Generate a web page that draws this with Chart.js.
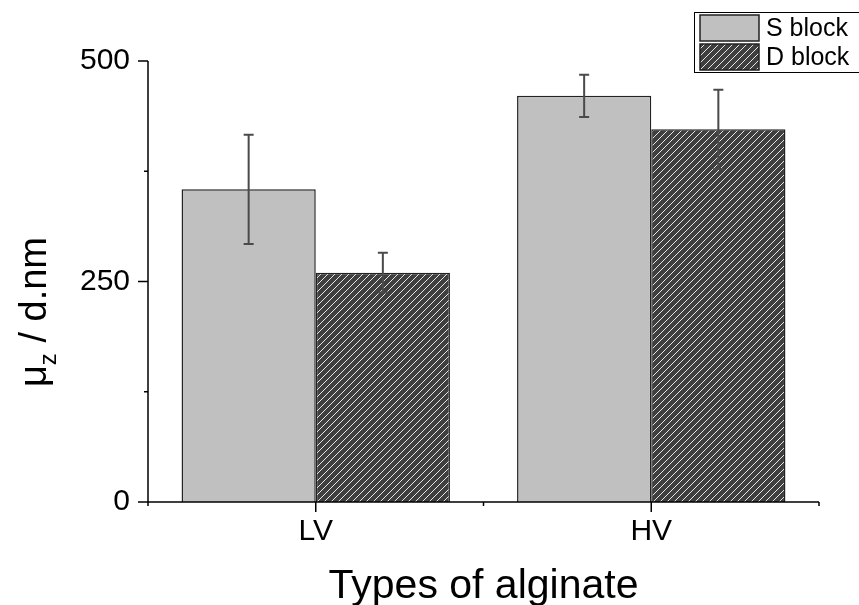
<!DOCTYPE html>
<html>
<head>
<meta charset="utf-8">
<script src="https://cdn.jsdelivr.net/npm/chart.js@4.4.1/dist/chart.umd.min.js"></script>
<style>
	html, body { margin: 0; padding: 0; background: #fff; }
	#wrap { width: 859px; height: 605px; position: relative; }
</style>
</head>
<body>
<div id="wrap"><canvas id="chart" width="859" height="605"></canvas></div>
<script>
var categories = ['LV', 'HV'];
var seriesNames = ['S block', 'D block'];
var sBlock = [354.5, 460.5];
var dBlock = [260, 422.5];
var sBlockErr = [62, 24];
var dBlockErr = [22.5, 45];
var yTicks = [0, 125, 250, 375, 500];
var yLabelTicks = [0, 250, 500];

var FONT = '"Liberation Sans", Arial, sans-serif';

function hatchPattern() {
	var c = document.createElement('canvas');
	c.width = 7; c.height = 7;
	var g = c.getContext('2d');
	g.fillStyle = '#3f3f3f';
	g.fillRect(0, 0, 7, 7);
	g.strokeStyle = '#e6e6e6';
	g.lineWidth = 1;
	g.beginPath();
	g.moveTo(-1, 8); g.lineTo(8, -1);
	g.moveTo(-1, 1); g.lineTo(1, -1);
	g.moveTo(6, 8); g.lineTo(8, 6);
	g.stroke();
	return g.createPattern(c, 'repeat');
}

var hatch = hatchPattern();
var errs = [sBlockErr, dBlockErr];

// axes, ticks, error bars, titles and legend drawn in the style of the original
var decor = {
	id: 'decor',
	afterDatasetsDraw: function (chart) {
		var ctx = chart.ctx;
		var y = chart.scales.y;
		ctx.save();
		ctx.strokeStyle = '#4a4a4a';
		ctx.lineWidth = 2;
		chart.data.datasets.forEach(function (ds, di) {
			var meta = chart.getDatasetMeta(di);
			meta.data.forEach(function (el, i) {
				var v = ds.data[i], e = errs[di][i];
				var top = y.getPixelForValue(v + e), bot = y.getPixelForValue(v - e);
				ctx.beginPath();
				ctx.moveTo(el.x, top); ctx.lineTo(el.x, bot);
				ctx.moveTo(el.x - 5, top); ctx.lineTo(el.x + 5, top);
				ctx.moveTo(el.x - 5, bot); ctx.lineTo(el.x + 5, bot);
				ctx.stroke();
			});
		});
		ctx.restore();
	},
	afterDraw: function (chart) {
		var ctx = chart.ctx;
		var a = chart.chartArea;
		var x = chart.scales.x, y = chart.scales.y;
		ctx.save();
		ctx.strokeStyle = '#000';
		ctx.lineWidth = 1.5;
		ctx.beginPath();
		ctx.moveTo(a.left, a.top); ctx.lineTo(a.left, a.bottom + 1);
		ctx.moveTo(a.left - 1, a.bottom); ctx.lineTo(a.right, a.bottom);
		yTicks.forEach(function (t) {
			var py = y.getPixelForValue(t);
			var len = yLabelTicks.indexOf(t) !== -1 ? 10 : 4;
			ctx.moveTo(a.left - len, py); ctx.lineTo(a.left, py);
		});
		for (var k = 0; k <= categories.length; k++) {
			var px = x.getPixelForValue(k - 0.5);
			ctx.moveTo(px, a.bottom); ctx.lineTo(px, a.bottom + 4);
		}
		categories.forEach(function (c, i) {
			var px = x.getPixelForValue(i);
			ctx.moveTo(px, a.bottom); ctx.lineTo(px, a.bottom + 10);
		});
		ctx.stroke();

		// x title
		ctx.fillStyle = '#000';
		ctx.font = '41px ' + FONT;
		ctx.textAlign = 'center';
		ctx.textBaseline = 'alphabetic';
		ctx.fillText('Types of alginate', (a.left + a.right) / 2, a.bottom + 96);

		// y title with subscript
		ctx.translate(46, 312);
		ctx.rotate(-Math.PI / 2);
		ctx.textAlign = 'left';
		var big = '38px ' + FONT, small = '24px ' + FONT;
		ctx.font = big; var w1 = ctx.measureText('\u03bc').width;
		ctx.font = small; var w2 = ctx.measureText('z').width;
		ctx.font = big; var w3 = ctx.measureText(' / d.nm').width;
		var sx = -(w1 + w2 + w3) / 2;
		ctx.fillText('\u03bc', sx, 0);
		ctx.font = small; ctx.fillText('z', sx + w1, 10);
		ctx.font = big; ctx.fillText(' / d.nm', sx + w1 + w2, 0);
		ctx.restore();

		// legend
		ctx.save();
		ctx.fillStyle = '#fff';
		ctx.strokeStyle = '#000';
		ctx.lineWidth = 1;
		ctx.fillRect(694.5, 12.5, 170, 60);
		ctx.strokeRect(694.5, 12.5, 170, 60);
		chart.data.datasets.forEach(function (ds, di) {
			var ty = 15 + di * 29;
			ctx.fillStyle = ds.backgroundColor;
			ctx.fillRect(700, ty, 59, 26);
			ctx.strokeStyle = '#222';
			ctx.lineWidth = 1.5;
			ctx.strokeRect(700, ty, 59, 26);
			ctx.fillStyle = '#000';
			ctx.font = '25px ' + FONT;
			ctx.textBaseline = 'middle';
			ctx.textAlign = 'left';
			ctx.fillText(ds.label, 766, ty + 14);
		});
		ctx.restore();
	}
};

new Chart(document.getElementById('chart'), {
	type: 'bar',
	data: {
		labels: categories,
		datasets: [
			{ label: seriesNames[0], data: sBlock, backgroundColor: '#c0c0c0', borderColor: '#222', borderWidth: 1.5, categoryPercentage: 0.8, barPercentage: 1.0 },
			{ label: seriesNames[1], data: dBlock, backgroundColor: hatch, borderColor: '#222', borderWidth: 1.5, categoryPercentage: 0.8, barPercentage: 1.0 }
		]
	},
	options: {
		responsive: false,
		animation: false,
		layout: { padding: { top: 61, right: 40, left: 0, bottom: 0 } },
		plugins: { legend: { display: false }, tooltip: { enabled: false } },
		scales: {
			x: {
				grid: { display: false, drawTicks: false },
				border: { display: false },
				ticks: { color: '#000', font: { family: FONT, size: 30 }, padding: 12 },
				afterFit: function (s) { s.height = 103; }
			},
			y: {
				min: 0, max: 500,
				grid: { display: false, drawTicks: false },
				border: { display: false },
				ticks: {
					stepSize: 125, color: '#000', font: { family: FONT, size: 30 }, padding: 18,
					callback: function (v) { return yLabelTicks.indexOf(v) !== -1 ? v : ''; }
				},
				afterFit: function (s) { s.width = 148; }
			}
		}
	},
	plugins: [decor]
});
</script>
</body>
</html>
